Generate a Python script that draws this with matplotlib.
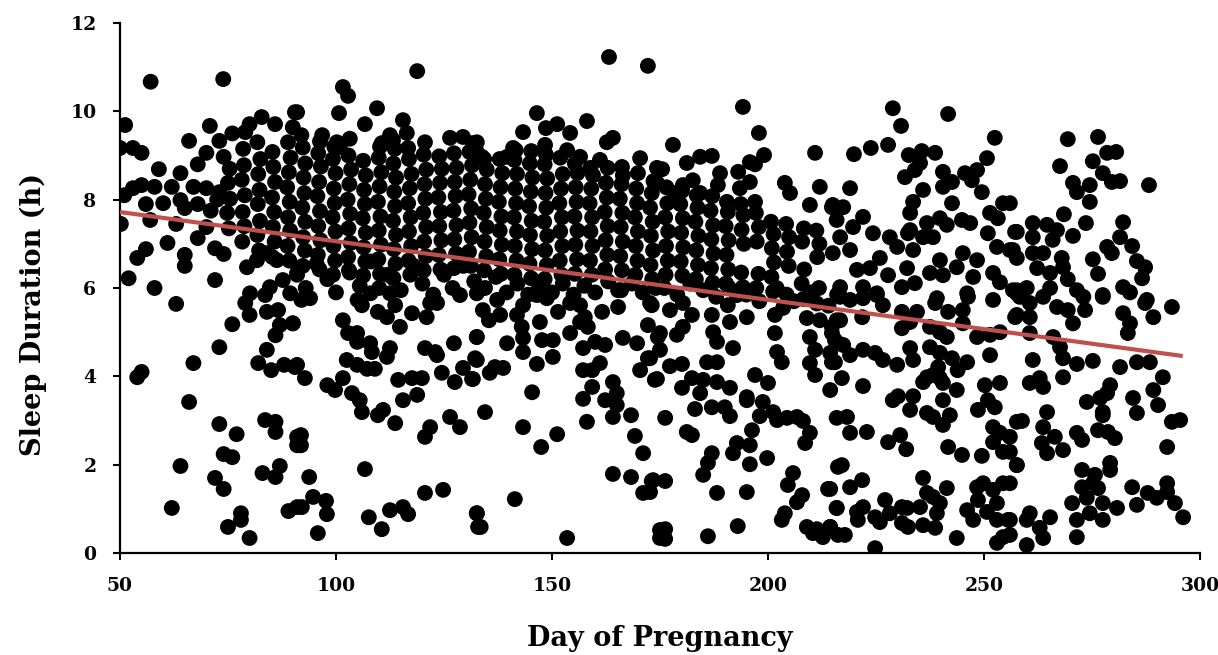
import numpy as np
import matplotlib
matplotlib.use("Agg")
import matplotlib.pyplot as plt

# (day of pregnancy, sleep hours), grouped by area
pts_early = [
    (57.1, 10.67), (73.9, 10.73), (51.2, 9.69), (70.8, 9.67), (82.8, 9.87), (85.9, 9.71), (90.5, 9.98),
    (50.0, 9.17), (53.0, 9.17), (55.0, 9.06), (66.0, 9.33), (73.0, 9.33), (76.0, 9.5), (79.0, 9.53),
    (80.0, 9.71), (59.0, 8.69), (64.0, 8.6), (68.0, 8.8), (70.0, 9.06), (74.0, 8.97), (51.0, 8.1),
    (53.0, 8.26), (55.0, 8.33), (58.0, 8.29), (62.0, 8.29), (67.0, 8.29), (70.0, 8.26), (73.0, 8.17),
    (56.0, 7.9), (60.0, 7.92), (64.0, 7.99), (65.0, 7.81), (50.2, 7.45), (57.0, 7.54), (63.0, 7.45),
    (68.0, 7.13), (70.0, 7.38), (61.0, 7.02), (56.0, 6.88), (54.0, 6.68), (65.0, 6.75), (65.0, 6.5),
    (72.0, 6.9), (74.0, 6.77), (52.0, 6.22), (58.0, 6.0), (72.0, 6.18), (68.0, 7.9), (71.0, 7.75),
    (72.5, 8.0), (79.4, 6.47), (81.7, 6.63), (84.0, 6.79), (86.3, 6.63), (87.7, 6.18), (91.0, 6.34),
    (84.7, 6.02), (80.1, 5.88), (89.4, 5.88),
]

pts_top = [
    (118.8, 10.91), (101.6, 10.55), (102.8, 10.35), (91.0, 9.98), (100.7, 9.96), (109.5, 10.07),
    (106.7, 9.71), (115.5, 9.8), (116.4, 9.51), (90.0, 9.64), (92.0, 9.46), (96.8, 9.46), (100.2, 9.3),
    (100.9, 9.19), (110.6, 9.28), (113.2, 9.35), (112.5, 9.46), (116.7, 9.17), (120.6, 9.3), (126.4, 9.4),
    (129.4, 9.42), (131.7, 9.28), (132.6, 9.08), (163.2, 11.23), (172.2, 11.03), (146.5, 9.96),
    (148.6, 9.62), (151.2, 9.71), (154.2, 9.51), (158.1, 9.78), (143.3, 9.53), (141.0, 9.17),
    (139.6, 8.97), (132.6, 9.3), (133.8, 8.97), (148.4, 9.24), (153.5, 9.12), (156.5, 8.97), (161.1, 8.9),
    (162.7, 9.3), (164.1, 9.4), (170.4, 8.94), (166.2, 8.74), (174.3, 8.72), (194.2, 10.1), (197.9, 9.51),
    (199.1, 9.01), (197.0, 8.8), (195.8, 8.85), (178.0, 9.24), (187.0, 8.99), (184.3, 8.97), (181.2, 8.83),
    (175.5, 8.69), (188.9, 8.6), (193.1, 8.63), (210.9, 9.06), (203.9, 8.38), (205.1, 8.15), (212.0, 8.29),
    (195.8, 8.4), (193.5, 8.26), (197.0, 7.95), (209.7, 7.88), (214.8, 7.83), (182.6, 8.44), (180.3, 8.33),
    (188.4, 8.33), (178.5, 8.15), (184.3, 8.15), (174.3, 8.38),
]

pts_band = [
    (75.2, 7.35), (74.8, 7.7), (75.5, 8.02), (75.0, 8.38), (75.4, 8.7),
    (78.3, 7.05), (78.8, 7.4), (78.4, 7.72), (78.9, 8.1), (78.2, 8.45), (78.7, 8.78), (78.5, 9.15),
    (82.2, 6.85), (81.8, 7.2), (82.4, 7.52), (81.9, 7.9), (82.3, 8.22), (82.0, 8.58), (82.5, 8.92), (81.8, 9.3),
    (85.3, 6.7), (85.8, 7.05), (85.4, 7.38), (85.7, 7.72), (85.2, 8.05), (85.9, 8.4), (85.5, 8.74), (85.3, 9.08),
    (89.2, 6.62), (88.8, 6.95), (89.4, 7.3), (88.9, 7.6), (89.3, 7.95), (88.7, 8.28), (89.1, 8.62), (89.5, 8.95), (88.9, 9.3),
    (92.3, 6.5), (92.8, 6.85), (92.4, 7.15), (92.9, 7.5), (92.2, 7.82), (92.7, 8.15), (92.5, 8.5), (92.9, 8.82), (92.3, 9.18),
    (96.2, 6.42), (95.8, 6.75), (96.4, 7.08), (95.9, 7.4), (96.3, 7.74), (95.7, 8.08), (96.1, 8.4), (96.5, 8.75), (95.9, 9.05), (96.3, 9.32),
    (99.3, 6.3), (99.8, 6.62), (99.4, 6.95), (99.9, 7.28), (99.2, 7.6), (99.7, 7.92), (99.5, 8.25), (99.9, 8.6), (99.3, 8.92), (99.6, 9.2),
    (103.2, 6.35), (102.8, 6.7), (103.4, 7.02), (102.9, 7.35), (103.3, 7.68), (102.7, 8.0), (103.1, 8.35), (103.5, 8.68), (102.9, 9.0), (103.2, 9.38),
    (106.3, 6.28), (106.8, 6.6), (106.4, 6.92), (106.9, 7.25), (106.2, 7.58), (106.7, 7.9), (106.5, 8.22), (106.9, 8.55), (106.3, 8.88),
    (110.2, 6.32), (109.8, 6.65), (110.4, 6.98), (109.9, 7.3), (110.3, 7.62), (109.7, 7.95), (110.1, 8.3), (110.5, 8.62), (109.9, 8.95), (110.2, 9.2),
    (113.3, 6.22), (113.8, 6.55), (113.4, 6.88), (113.9, 7.2), (113.2, 7.52), (113.7, 7.85), (113.5, 8.18), (113.9, 8.5), (113.3, 8.82), (113.6, 9.15),
    (117.2, 6.3), (116.8, 6.62), (117.4, 6.95), (116.9, 7.28), (117.3, 7.6), (116.7, 7.92), (117.1, 8.26), (117.5, 8.58), (116.9, 8.92),
    (120.3, 6.4), (120.8, 6.72), (120.4, 7.05), (120.9, 7.38), (120.2, 7.7), (120.7, 8.02), (120.5, 8.35), (120.9, 8.68), (120.3, 9.02),
    (124.2, 6.42), (123.8, 6.75), (124.4, 7.08), (123.9, 7.4), (124.3, 7.72), (123.7, 8.05), (124.1, 8.38), (124.5, 8.7), (123.9, 8.98),
    (127.3, 6.45), (127.8, 6.78), (127.4, 7.1), (127.9, 7.42), (127.2, 7.75), (127.7, 8.08), (127.5, 8.4), (127.9, 8.72), (127.3, 9.05),
    (131.2, 6.5), (130.8, 6.82), (131.4, 7.15), (130.9, 7.48), (131.3, 7.8), (130.7, 8.12), (131.1, 8.45), (131.5, 8.78), (130.9, 9.08),
    (134.3, 6.4), (134.8, 6.72), (134.4, 7.05), (134.9, 7.38), (134.2, 7.7), (134.7, 8.02), (134.5, 8.35), (134.9, 8.68), (134.3, 8.92),
    (138.2, 6.32), (137.8, 6.65), (138.4, 6.98), (137.9, 7.3), (138.3, 7.62), (137.7, 7.95), (138.1, 8.28), (138.5, 8.6), (137.9, 8.92),
    (141.3, 6.3), (141.8, 6.62), (141.4, 6.95), (141.9, 7.28), (141.2, 7.6), (141.7, 7.92), (141.5, 8.25), (141.9, 8.58), (141.3, 8.9), (141.6, 9.12),
    (145.2, 6.22), (144.8, 6.55), (145.4, 6.88), (144.9, 7.2), (145.3, 7.52), (144.7, 7.85), (145.1, 8.18), (145.5, 8.5), (144.9, 8.82), (145.2, 9.1),
    (148.3, 6.2), (148.8, 6.52), (148.4, 6.85), (148.9, 7.18), (148.2, 7.5), (148.7, 7.82), (148.5, 8.15), (148.9, 8.48), (148.3, 8.8), (148.6, 9.02),
    (152.2, 6.3), (151.8, 6.62), (152.4, 6.95), (151.9, 7.28), (152.3, 7.6), (151.7, 7.92), (152.1, 8.25), (152.5, 8.58), (151.9, 8.95),
    (155.3, 6.32), (155.8, 6.65), (155.4, 6.98), (155.9, 7.3), (155.2, 7.62), (155.7, 7.95), (155.5, 8.28), (155.9, 8.6), (155.3, 8.82),
    (159.2, 6.3), (158.8, 6.62), (159.4, 6.95), (158.9, 7.28), (159.3, 7.6), (158.7, 7.92), (159.1, 8.25), (159.5, 8.55), (158.9, 8.72),
    (162.3, 6.42), (162.8, 6.75), (162.4, 7.08), (162.9, 7.4), (162.2, 7.72), (162.7, 8.05), (162.5, 8.38), (162.9, 8.72),
    (166.2, 6.4), (165.8, 6.72), (166.4, 7.05), (165.9, 7.38), (166.3, 7.7), (165.7, 8.02), (166.1, 8.35), (166.4, 8.55),
    (169.3, 6.3), (169.8, 6.62), (169.4, 6.95), (169.9, 7.28), (169.2, 7.6), (169.7, 7.92), (169.5, 8.25), (169.9, 8.6),
    (173.2, 6.2), (172.8, 6.52), (173.4, 6.85), (172.9, 7.18), (173.3, 7.5), (172.7, 7.82), (173.1, 8.15), (173.5, 8.42),
    (176.3, 6.3), (176.8, 6.62), (176.4, 6.95), (176.9, 7.28), (176.2, 7.6), (176.7, 7.92), (176.5, 8.28),
    (180.2, 6.28), (179.8, 6.6), (180.4, 6.92), (179.9, 7.25), (180.3, 7.58), (179.7, 7.9), (180.1, 8.2),
    (183.3, 6.2), (183.8, 6.52), (183.4, 6.85), (183.9, 7.18), (183.2, 7.5), (183.7, 7.82), (183.5, 8.1),
    (187.2, 6.12), (186.8, 6.45), (187.4, 6.78), (186.9, 7.1), (187.3, 7.42), (186.7, 7.75), (187.1, 8.08),
    (190.3, 6.1), (190.8, 6.42), (190.4, 6.75), (190.9, 7.08), (190.2, 7.4), (190.7, 7.72), (190.5, 7.95),
    (194.2, 6.02), (193.8, 6.35), (194.4, 7.0), (193.9, 7.32), (194.3, 7.65), (193.7, 7.9),
    (197.3, 6.0), (197.8, 6.32), (197.4, 7.05), (197.9, 7.38), (197.2, 7.7),
    (201.2, 5.92), (200.8, 6.25), (201.4, 6.58), (200.9, 6.9), (201.3, 7.22), (200.7, 7.5),
    (204.3, 5.85), (204.8, 6.5), (204.4, 6.82), (204.9, 7.15), (204.2, 7.45),
    (208.2, 5.75), (207.8, 6.1), (208.4, 6.42), (207.9, 7.05), (208.3, 7.35),
    (211.3, 5.65), (211.8, 6.0), (211.4, 6.7), (211.9, 7.0), (211.2, 7.3),
]

pts_under = [
    (91.0, 6.3), (93.0, 6.0), (95.5, 6.55), (98.0, 6.2), (100.0, 5.9), (103.0, 6.4), (105.5, 6.05),
    (108.0, 6.6), (110.0, 6.0), (112.0, 6.3), (115.0, 5.95), (118.0, 6.5), (120.0, 6.1), (122.5, 5.85),
    (125.0, 6.3), (127.0, 6.0), (129.5, 6.5), (132.0, 6.15), (134.5, 6.0), (137.0, 6.25), (139.5, 5.9),
    (142.0, 6.1), (144.5, 5.85), (147.0, 6.0), (150.0, 5.9), (152.5, 6.1), (155.0, 5.85), (157.5, 6.05),
    (160.0, 5.9), (163.0, 6.15), (166.0, 5.95), (168.5, 6.1), (171.0, 5.9), (174.0, 6.0), (176.0, 6.0),
    (179.0, 5.85), (182.0, 6.1), (185.0, 5.95), (188.0, 5.8), (191.0, 6.0), (195.0, 5.85), (198.0, 5.7),
    (202.0, 6.0), (206.0, 5.7), (210.0, 5.9), (214.0, 5.6), (216.0, 5.85),
]

pts_low_left = [
    (63.0, 5.64), (76.0, 5.18), (73.0, 4.66), (67.0, 4.3), (54.0, 3.98), (55.0, 4.1), (66.0, 3.42),
    (73.0, 2.92), (77.0, 2.69), (74.0, 2.24), (76.0, 2.17), (64.0, 1.97), (72.0, 1.7), (74.0, 1.45),
    (62.0, 1.02), (78.0, 0.9), (78.0, 0.75), (75.0, 0.59), (80.0, 0.34), (83.6, 3.01), (86.0, 2.97),
    (86.0, 2.74), (83.0, 1.81), (86.0, 1.72), (87.0, 1.97), (89.0, 0.95), (91.0, 1.04), (91.0, 2.63),
    (91.0, 2.44), (79.0, 5.66), (80.0, 5.39), (83.6, 5.84), (84.0, 5.46), (86.6, 5.5), (90.0, 5.2),
    (87.0, 5.16), (86.0, 4.93), (84.0, 4.6), (82.0, 4.3), (85.0, 4.14), (88.0, 4.26), (90.5, 4.21),
    (92.0, 5.73), (94.0, 5.77), (90.0, 5.2), (101.6, 5.27), (105.0, 5.73), (106.0, 5.61), (108.0, 5.88),
    (112.5, 5.88), (109.7, 5.46), (111.8, 5.34), (113.7, 5.61), (114.8, 5.12), (117.6, 5.43), (121.0, 5.34),
    (121.8, 5.66), (123.4, 5.66), (128.7, 5.84), (132.6, 5.88), (102.8, 4.98), (104.9, 4.98), (104.9, 4.78),
    (107.9, 4.75), (108.3, 4.55), (112.5, 4.64), (111.8, 4.44), (102.5, 4.37), (104.9, 4.26), (107.2, 4.17),
    (109.0, 4.17), (91.0, 4.26), (92.8, 3.96), (98.0, 3.8), (99.8, 3.69), (101.6, 3.96), (103.7, 3.62),
    (105.5, 3.46), (106.0, 3.19), (109.7, 3.12), (110.9, 3.24), (113.7, 2.94), (120.6, 4.64), (123.0, 4.55),
    (123.4, 4.48), (127.3, 4.75), (114.4, 3.92), (117.6, 3.96), (119.9, 3.96), (115.5, 3.46), (118.8, 3.58),
    (124.5, 4.08), (127.5, 3.87), (129.4, 4.19), (131.5, 3.94), (132.2, 4.41), (132.6, 4.89), (120.6, 2.63),
    (121.8, 2.85), (126.4, 3.08), (128.7, 2.85), (91.9, 2.67), (91.9, 2.44), (93.8, 1.72), (106.7, 1.9),
    (94.7, 1.27), (97.7, 1.18), (97.9, 0.88), (92.1, 1.04), (95.8, 0.45), (107.6, 0.81), (110.6, 0.54),
    (112.5, 0.97), (115.5, 1.04), (116.7, 0.88), (120.6, 1.36), (124.8, 1.43), (132.6, 0.9), (132.9, 0.59),
]

pts_low_mid = [
    (137.3, 5.73), (134.0, 5.5), (135.4, 5.27), (138.0, 5.39), (141.9, 5.39), (143.3, 5.61), (146.5, 5.84),
    (148.8, 5.77), (151.4, 5.46), (154.2, 5.66), (156.5, 5.61), (157.6, 5.34), (156.5, 5.23), (158.3, 5.12),
    (161.6, 5.46), (165.3, 5.57), (165.3, 5.95), (173.1, 5.61), (132.6, 4.89), (139.6, 4.75), (143.0, 5.12),
    (143.3, 4.87), (143.3, 4.55), (147.2, 5.23), (147.7, 4.82), (150.2, 4.82), (150.2, 4.44), (146.5, 4.28),
    (154.2, 4.98), (132.6, 4.37), (135.6, 4.08), (136.8, 4.21), (138.7, 4.19), (131.7, 3.94), (157.2, 4.64),
    (160.0, 4.78), (162.3, 4.71), (157.2, 4.14), (159.3, 4.14), (161.1, 4.3), (159.3, 3.76), (157.2, 3.49),
    (162.3, 3.46), (164.1, 3.87), (165.0, 3.62), (165.0, 3.35), (164.1, 3.08), (166.4, 4.87), (169.7, 4.75),
    (172.2, 5.16), (172.2, 4.41), (170.4, 4.14), (173.8, 3.92), (174.5, 4.89), (145.4, 3.64), (134.5, 3.19),
    (143.3, 2.85), (147.5, 2.4), (151.2, 2.69), (158.1, 2.97), (168.3, 3.12), (169.2, 2.65), (171.1, 2.26),
    (164.1, 1.79), (168.3, 1.72), (173.1, 1.63), (171.1, 1.36), (141.4, 1.22), (132.6, 0.9), (133.5, 0.59),
    (153.5, 0.34), (175.0, 0.52), (175.0, 0.34),
]

pts_low_right = [
    (172.7, 5.66), (177.3, 5.5), (180.3, 5.66), (182.4, 5.39), (187.0, 5.39), (190.7, 5.61), (191.2, 5.23),
    (195.1, 5.34), (192.8, 5.84), (203.5, 5.55), (201.6, 5.39), (209.0, 5.32), (212.0, 5.27), (214.8, 5.12),
    (215.9, 5.27), (175.0, 4.98), (178.9, 4.94), (180.3, 5.12), (187.3, 5.0), (188.2, 4.78), (191.9, 4.64),
    (201.6, 4.98), (202.1, 4.55), (203.2, 4.32), (209.7, 4.89), (210.9, 4.6), (209.7, 4.3), (210.9, 4.03),
    (214.8, 4.98), (216.2, 4.75), (214.8, 4.32), (175.0, 4.6), (172.7, 4.41), (177.3, 4.23), (180.1, 4.28),
    (174.3, 3.94), (180.1, 3.74), (182.4, 3.96), (184.3, 3.62), (185.9, 4.32), (188.2, 4.32), (188.2, 3.87),
    (185.0, 3.92), (191.2, 3.74), (197.0, 4.03), (200.0, 3.85), (183.1, 3.26), (187.0, 3.3), (190.0, 3.3),
    (191.2, 3.1), (195.1, 3.46), (195.1, 3.53), (198.8, 3.42), (198.1, 3.1), (201.2, 3.19), (202.1, 3.01),
    (204.4, 3.06), (206.7, 3.08), (208.1, 2.99), (176.2, 3.06), (181.2, 2.74), (182.4, 2.67), (196.3, 2.78),
    (195.8, 2.44), (192.8, 2.49), (191.9, 2.26), (187.0, 2.26), (186.1, 2.04), (185.0, 1.77), (195.8, 2.01),
    (199.8, 2.15), (209.7, 2.72), (208.6, 2.49), (173.4, 1.65), (176.2, 1.63), (172.7, 1.38), (188.2, 1.36),
    (195.1, 1.38), (205.8, 1.81), (204.6, 1.54), (207.9, 1.31), (206.7, 1.15), (213.9, 1.45), (215.9, 1.02),
    (203.9, 0.9), (203.2, 0.75), (176.2, 0.54), (176.2, 0.32), (186.1, 0.38), (193.0, 0.61), (209.0, 0.59),
    (211.3, 0.54), (212.7, 0.36), (214.4, 0.59), (210.4, 0.45), (216.2, 1.95), (216.2, 0.41),
]

pts_late_upper = [
    (228.9, 10.07), (230.8, 9.67), (241.7, 9.94), (252.5, 9.4), (219.9, 9.03), (223.8, 9.17), (227.8, 9.24),
    (232.6, 9.01), (235.6, 9.1), (238.7, 9.06), (235.2, 8.83), (234.0, 8.67), (250.7, 8.94), (248.4, 8.67),
    (245.6, 8.6), (247.2, 8.44), (240.5, 8.63), (242.6, 8.4), (240.5, 8.29), (231.7, 8.51), (235.9, 8.22),
    (249.5, 8.17), (254.4, 7.92), (219.0, 8.26), (233.6, 7.95), (242.6, 7.92), (215.0, 7.88), (217.4, 7.83),
    (222.0, 7.61), (232.9, 7.7), (232.9, 7.31), (236.8, 7.47), (239.8, 7.58), (241.4, 7.43), (244.9, 7.54),
    (246.8, 7.47), (251.4, 7.7), (253.2, 7.58), (257.2, 7.27), (250.9, 7.24), (215.9, 7.54), (219.7, 7.38),
    (216.7, 7.15), (219.0, 6.86), (215.0, 6.79), (224.3, 7.24), (228.2, 7.15), (229.9, 6.93), (233.6, 6.86),
    (232.4, 7.24), (235.9, 7.15), (238.2, 7.15), (225.9, 6.68), (223.6, 6.45), (227.8, 6.29), (232.2, 6.45),
    (231.0, 6.02), (234.0, 6.11), (220.6, 6.41), (216.7, 6.02), (222.0, 6.02), (225.2, 5.88), (239.8, 6.63),
    (237.5, 6.34), (240.5, 6.29), (243.7, 6.47), (245.1, 6.79), (248.4, 6.63), (247.5, 6.25), (252.1, 6.34),
    (253.7, 6.13), (256.7, 5.95), (256.0, 6.86), (253.0, 6.93), (246.1, 5.88), (239.1, 5.77),
    (269.4, 9.37), (276.4, 9.42), (288.2, 8.33), (278.5, 9.06), (280.6, 9.08), (275.2, 8.87), (267.6, 8.76),
    (277.5, 8.6), (279.6, 8.4), (281.5, 8.42), (270.6, 8.38), (271.5, 8.17), (274.5, 8.33), (274.5, 7.95),
    (268.5, 7.67), (273.6, 7.47), (282.2, 7.49), (257.6, 7.27), (261.3, 7.47), (264.6, 7.43), (266.9, 7.31),
    (270.6, 7.18), (261.3, 7.15), (265.9, 7.09), (256.0, 7.92), (256.7, 6.86), (257.6, 6.68), (261.3, 6.79),
    (263.7, 6.79), (262.3, 6.45), (265.3, 6.34), (268.0, 6.68), (268.3, 6.47), (281.5, 7.15), (284.3, 6.95),
    (278.5, 6.93), (279.6, 6.79), (285.4, 6.61), (287.3, 6.47), (286.6, 6.22), (275.2, 6.65), (276.4, 6.32),
    (269.4, 6.2), (265.3, 6.0), (271.5, 5.95), (282.2, 6.02), (283.8, 5.9), (277.5, 5.84), (287.7, 5.73),
    (259.9, 6.0), (257.6, 5.95),
]

pts_late_lower = [
    (216.7, 5.8), (219.0, 5.73), (222.0, 5.77), (225.2, 5.84), (226.6, 5.61), (231.0, 5.46), (234.5, 5.46),
    (238.7, 5.66), (241.7, 5.46), (245.1, 5.5), (246.3, 5.8), (252.1, 5.73), (257.2, 5.34), (257.6, 5.88),
    (216.7, 5.27), (221.8, 5.34), (231.0, 5.09), (232.9, 5.23), (237.5, 5.12), (239.8, 5.0), (241.4, 4.89),
    (245.1, 5.2), (248.4, 4.89), (251.4, 4.94), (253.7, 5.0), (215.5, 4.82), (217.4, 4.71), (214.4, 4.53),
    (219.0, 4.48), (222.0, 4.6), (224.8, 4.53), (226.6, 4.37), (229.9, 4.26), (232.9, 4.64), (233.6, 4.37),
    (237.5, 4.66), (239.8, 4.53), (239.4, 4.21), (242.6, 4.41), (246.1, 4.32), (243.9, 4.14), (251.4, 4.48),
    (215.5, 4.32), (217.1, 3.96), (222.0, 3.78), (214.4, 3.69), (236.8, 3.98), (235.9, 3.87), (238.2, 4.03),
    (239.8, 3.96), (240.5, 3.85), (243.7, 3.69), (240.5, 3.46), (242.1, 3.12), (240.5, 2.9), (236.8, 3.17),
    (238.2, 3.08), (250.2, 3.8), (253.7, 3.85), (250.9, 3.46), (248.6, 3.24), (252.5, 3.3), (257.6, 2.97),
    (228.9, 3.46), (230.1, 3.55), (232.9, 3.24), (233.6, 3.55), (215.9, 3.06), (218.3, 3.08), (219.0, 2.72),
    (222.9, 2.74), (227.8, 2.51), (230.6, 2.67), (232.0, 2.35), (241.7, 2.4), (244.9, 2.22), (249.5, 2.2),
    (252.1, 2.85), (253.7, 2.72), (252.1, 2.51), (254.4, 2.29), (217.1, 1.99), (257.6, 1.99), (214.4, 1.45),
    (219.0, 1.49), (221.8, 1.65), (215.9, 1.02), (214.4, 0.59), (217.8, 0.41), (222.0, 1.04), (220.8, 0.75),
    (220.6, 0.93), (224.8, 0.81), (227.1, 1.2), (228.2, 0.9), (231.0, 1.04), (232.2, 1.02), (231.0, 0.68),
    (232.4, 0.59), (225.9, 0.7), (224.8, 0.11), (235.9, 1.7), (236.8, 1.36), (238.2, 1.27), (239.8, 1.13),
    (235.2, 1.04), (239.1, 0.9), (241.4, 1.47), (235.9, 0.63), (238.7, 0.57), (243.7, 0.34), (246.1, 0.97),
    (247.5, 0.75), (248.4, 1.49), (249.8, 1.58), (248.6, 1.2), (252.1, 1.43), (254.4, 1.58), (253.0, 1.13),
    (250.7, 0.93), (253.0, 0.75), (255.6, 0.75), (254.4, 0.36), (253.0, 0.23),
    (258.3, 5.8), (260.6, 5.66), (263.7, 5.8), (266.9, 5.57), (269.4, 5.5), (273.0, 5.8), (273.4, 5.5),
    (277.5, 5.8), (282.2, 5.43), (283.8, 5.2), (283.3, 4.98), (287.3, 5.66), (289.2, 5.34), (293.5, 5.57),
    (257.6, 5.39), (260.6, 5.34), (260.6, 4.98), (270.6, 5.2), (266.0, 4.89), (267.6, 4.66), (261.3, 4.37),
    (268.3, 4.41), (271.5, 4.28), (275.2, 4.35), (281.5, 4.21), (285.4, 4.32), (288.4, 4.32), (291.4, 3.98),
    (260.6, 3.85), (262.9, 3.96), (263.7, 3.76), (268.3, 3.98), (273.8, 3.42), (276.9, 3.51), (279.2, 3.8),
    (278.5, 3.62), (277.5, 3.19), (277.5, 3.12), (284.5, 3.51), (285.4, 3.17), (289.2, 3.69), (290.3, 3.35),
    (293.5, 2.97), (295.4, 3.01), (258.8, 2.99), (264.6, 3.19), (263.7, 2.85), (263.4, 2.49), (264.6, 2.26),
    (266.4, 2.63), (268.3, 2.33), (271.5, 2.72), (272.7, 2.56), (276.4, 2.78), (278.7, 2.74), (280.3, 2.6),
    (292.4, 2.4), (257.6, 1.99), (272.7, 1.88), (275.7, 1.77), (279.2, 2.04), (279.2, 1.88), (272.7, 1.49),
    (275.2, 1.58), (276.4, 1.47), (273.8, 1.25), (270.4, 1.13), (277.5, 1.13), (280.8, 1.02), (274.5, 0.9),
    (277.5, 0.75), (271.5, 0.75), (271.5, 0.36), (284.3, 1.49), (285.4, 1.09), (287.9, 1.36), (290.0, 1.25),
    (292.4, 1.58), (294.2, 1.13), (296.1, 0.81), (292.4, 1.38), (256.0, 0.75), (259.9, 0.75), (260.6, 0.9),
    (262.9, 0.57), (263.7, 0.34), (259.9, 0.18), (265.3, 0.81), (256.0, 0.41), (256.0, 2.63), (256.0, 2.29),
    (256.0, 1.58),
]

# linear trendline, end points
trend_day = [50, 296]
trend_hours = [7.72, 4.46]

groups = [pts_early, pts_top, pts_band, pts_under, pts_low_left, pts_low_mid,
          pts_low_right, pts_late_upper, pts_late_lower]
pts = np.array([p for g in groups for p in g])

plt.rcParams['font.family'] = 'DejaVu Serif'
plt.rcParams['font.weight'] = 'bold'

fig = plt.figure(figsize=(12.18, 6.55), dpi=100)
ax = fig.add_axes([0.0985, 0.1557, 0.8867, 0.8092])

ax.scatter(pts[:, 0], pts[:, 1], s=130, color='black', edgecolors='none', zorder=2)
ax.plot(trend_day, trend_hours, color='#c0504d', lw=3, solid_capstyle='butt', zorder=3)

ax.set_xlim(50, 300)
ax.set_ylim(0, 12)
ax.set_xticks(range(50, 301, 50))
ax.set_yticks(range(0, 13, 2))

for s in ['top', 'right']:
    ax.spines[s].set_visible(False)
for s in ['left', 'bottom']:
    ax.spines[s].set_linewidth(1.6)

ax.tick_params(axis='both', direction='out', length=5, width=1.5, labelsize=13.5)
ax.tick_params(axis='y', pad=12)
ax.tick_params(axis='x', pad=12)

ax.set_xlabel('Day of Pregnancy', fontsize=19.5, fontweight='bold')
ax.set_ylabel('Sleep Duration (h)', fontsize=19.5, fontweight='bold')
ax.xaxis.set_label_coords(0.5, -0.135)
ax.yaxis.set_label_coords(-0.068, 0.45)

fig.savefig('out.png', dpi=100)
